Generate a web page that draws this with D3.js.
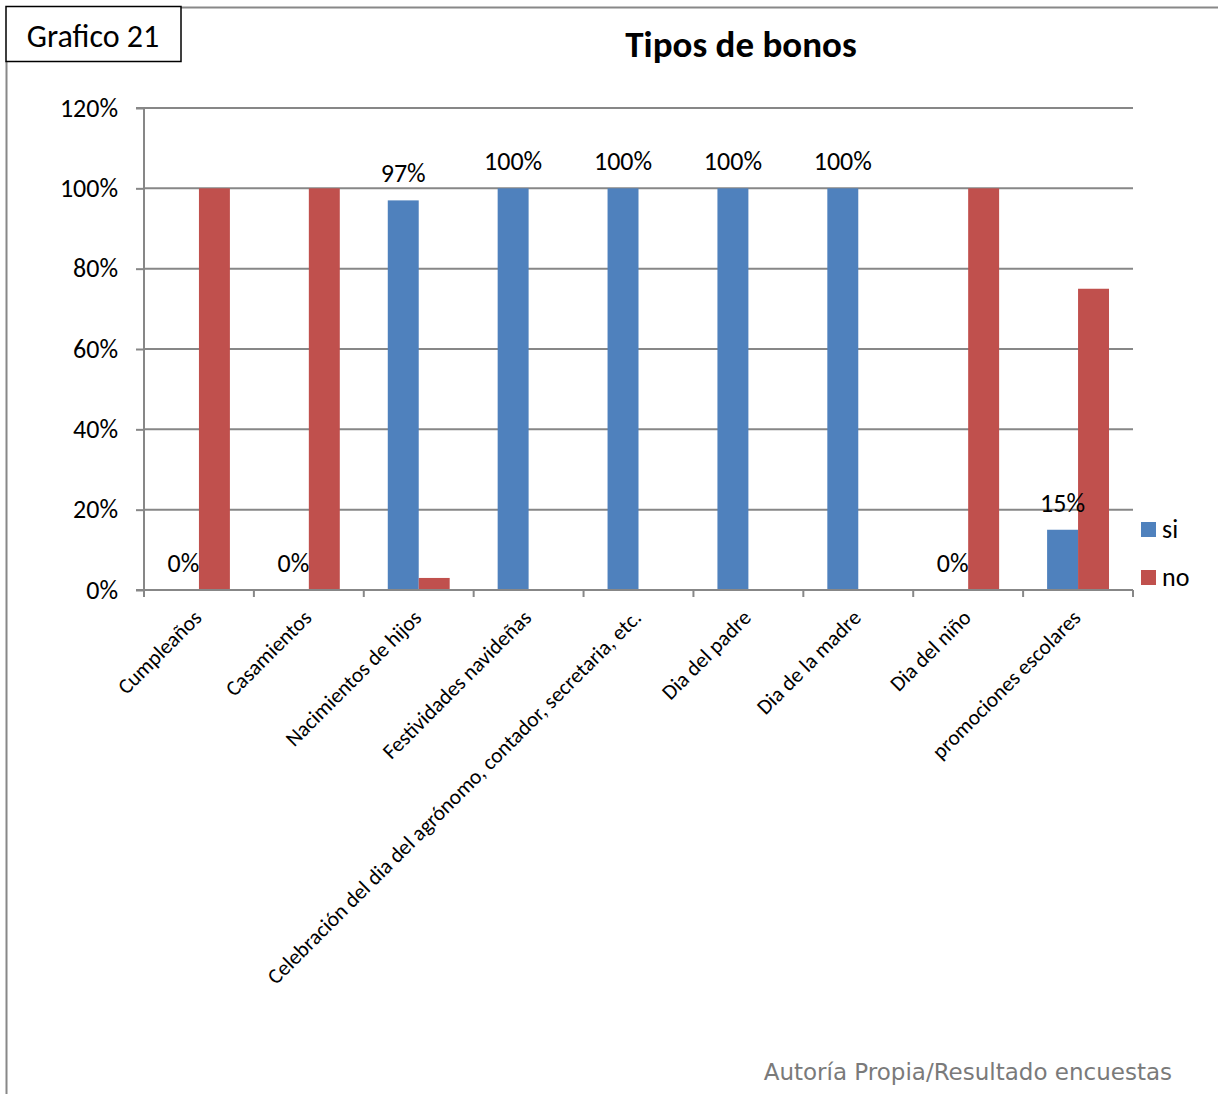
<!DOCTYPE html>
<html>
<head>
<meta charset="utf-8">
<script src="https://cdn.jsdelivr.net/npm/d3@7"></script>
<style>
  html, body { margin: 0; padding: 0; background: #fff; }
  svg { display: block; }
  text { font-family: Carlito, Calibri, Lato, "Open Sans", sans-serif; fill: #000; }
</style>
</head>
<body>
<svg id="chart" width="1218" height="1094"></svg>
<script>
const categories = ["Cumpleaños", "Casamientos", "Nacimientos de hijos", "Festividades navideñas",
  "Celebración del dia del agrónomo, contador, secretaria, etc.", "Dia del padre",
  "Dia de la madre", "Dia del niño", "promociones escolares"];
const seriesNames = ["si", "no"];
const siValues = [0, 0, 0.97, 1, 1, 1, 1, 0, 0.15];
const noValues = [1, 1, 0.03, 0, 0, 0, 0, 1, 0.75];
const yTicks = [0, 0.2, 0.4, 0.6, 0.8, 1.0, 1.2];
const colors = { si: "#4F81BD", no: "#C0504D" };

const svg = d3.select("#chart");

// Frame
svg.append("line").attr("x1", 181).attr("x2", 1218).attr("y1", 7.5).attr("y2", 7.5)
  .attr("stroke", "#888").attr("stroke-width", 2);
svg.append("line").attr("x1", 6.5).attr("x2", 6.5).attr("y1", 61).attr("y2", 1094)
  .attr("stroke", "#888").attr("stroke-width", 2);
svg.append("rect").attr("x", 6).attr("y", 6.5).attr("width", 175).attr("height", 55)
  .attr("fill", "#fff").attr("stroke", "#000").attr("stroke-width", 1.5);
svg.append("text").attr("x", 93).attr("y", 47).attr("text-anchor", "middle")
  .style("font-size", "32px").text("Grafico 21");

// Title
svg.append("text").attr("x", 741).attr("y", 57).attr("text-anchor", "middle")
  .style("font-size", "37px").style("font-weight", "bold").text("Tipos de bonos");

const pLeft = 144, pRight = 1133, pTop = 108, pBottom = 590;
const x0 = d3.scaleBand().domain(categories).range([pLeft, pRight]).padding(0);
const x1 = d3.scaleBand().domain(seriesNames).range([0, x0.bandwidth()]).paddingInner(0).paddingOuter(0.775);
const y = d3.scaleLinear().domain([0, 1.2]).range([pBottom, pTop]);

// Gridlines
svg.append("g").selectAll("line").data(yTicks.filter(t => t > 0)).join("line")
  .attr("x1", pLeft).attr("x2", pRight).attr("y1", d => y(d)).attr("y2", d => y(d))
  .attr("stroke", "#878787").attr("stroke-width", 2);

// Y axis
const yAxis = d3.axisLeft(y).tickValues(yTicks).tickFormat(d3.format(".0%")).tickSize(8).tickPadding(18);
const yg = svg.append("g").attr("transform", `translate(${pLeft},0)`).call(yAxis);
yg.select(".domain").attr("stroke", "#878787").attr("stroke-width", 2).attr("d", `M-8,${pTop}H0V${pBottom}H-8`);
yg.selectAll(".tick line").attr("stroke", "#878787").attr("stroke-width", 2);
yg.selectAll(".tick text").style("font-size", "26px").attr("fill", "#000")
  .style("font-family", "Carlito, Calibri, Lato, sans-serif");

// Bars
const data = categories.map((c, i) => ({ cat: c, si: siValues[i], no: noValues[i] }));
const groups = svg.append("g").selectAll("g").data(data).join("g")
  .attr("transform", d => `translate(${x0(d.cat)},0)`);
groups.selectAll("rect").data(d => seriesNames.map(s => ({ s, v: d[s] }))).join("rect")
  .attr("x", d => x1(d.s)).attr("width", x1.bandwidth())
  .attr("y", d => y(d.v)).attr("height", d => pBottom - y(d.v))
  .attr("fill", d => colors[d.s]);

// X axis
const xg = svg.append("g").attr("transform", `translate(0,${pBottom})`);
xg.append("line").attr("x1", pLeft).attr("x2", pRight).attr("y1", 0).attr("y2", 0)
  .attr("stroke", "#878787").attr("stroke-width", 2);
const boundaries = categories.map(c => x0(c)).concat([pRight]);
xg.selectAll("line.tk").data(boundaries).join("line").attr("class", "tk")
  .attr("x1", d => d).attr("x2", d => d).attr("y1", 0).attr("y2", 7)
  .attr("stroke", "#878787").attr("stroke-width", 2);
xg.selectAll("text").data(categories).join("text")
  .attr("transform", d => `translate(${x0(d) + x0.bandwidth() / 2 + 4},${29}) rotate(-45)`)
  .attr("text-anchor", "end").style("font-size", "21.5px").text(d => d);

// Data labels (si series)
svg.append("g").selectAll("text").data(data).join("text")
  .attr("x", d => x0(d.cat) + x1("si") + x1.bandwidth() / 2)
  .attr("y", d => y(d.si) - 18)
  .attr("text-anchor", "middle").style("font-size", "26px")
  .text(d => d3.format(".0%")(d.si));

// Legend
const lg = svg.append("g");
seriesNames.forEach((s, i) => {
  lg.append("rect").attr("x", 1141).attr("y", 522 + i * 48).attr("width", 15).attr("height", 15).attr("fill", colors[s]);
  lg.append("text").attr("x", 1162).attr("y", 538 + i * 48).style("font-size", "26px").text(s);
});

// Footer
svg.append("text").attr("x", 1172).attr("y", 1080).attr("text-anchor", "end")
  .style("font-size", "23px").style("font-family", "'DejaVu Sans', sans-serif")
  .style("fill", "#7a7a7a").text("Autoría Propia/Resultado encuestas");
</script>
</body>
</html>
